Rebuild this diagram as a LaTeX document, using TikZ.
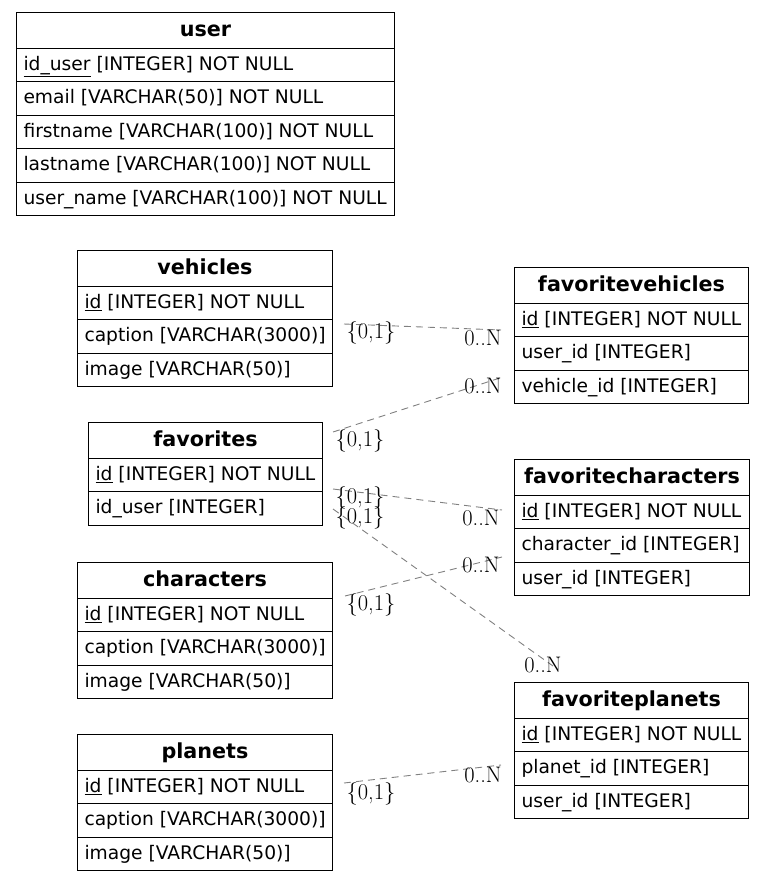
\documentclass[tikz,border=0pt]{standalone}
\usepackage{fontspec}
\newfontfamily\tblfont{DejaVu Sans}
\usetikzlibrary{calc}
\tikzset{
  x=1pt, y=1pt,
  hdr/.style={draw=black, line width=1pt, anchor=north west, minimum height=35.5pt, inner sep=0pt,
    font=\tblfont\bfseries\fontsize{20.7}{24}\selectfont, text height=15pt, text depth=2.9pt},
  rowbox/.style={draw=black, line width=1pt, anchor=north west, minimum height=33.5pt, inner ysep=0pt, inner xsep=7pt,
    font=\tblfont\fontsize{18.67}{22}\selectfont, text height=13.6pt, text depth=2.6pt},
  rel/.style={draw=gray, line width=0.9pt, dash pattern=on 7pt off 5pt},
  card/.style={inner sep=0pt, font=\fontsize{22.5}{25}\selectfont}
}
\newcommand\erdtable[6]{%
  \pgfmathsetmacro\erdtw{#4-14}%
  \node[hdr, minimum width=#4pt] (#1) at (#2,-#3) {#5};
  \foreach \r [count=\i] in {#6} {
    \node[rowbox] (#1-\i) at (#2, -#3-35.5-33.5*\i+33.5) {\makebox[\erdtw pt][l]{\r}};
  }
}
\begin{document}
\begin{tikzpicture}
\useasboundingbox (0,0) rectangle (765,-881);
\erdtable{user}{16}{12}{378}{user}{{\underline{id\_user} [INTEGER] NOT NULL},{email [VARCHAR(50)] NOT NULL},{firstname [VARCHAR(100)] NOT NULL},{lastname [VARCHAR(100)] NOT NULL},{user\_name [VARCHAR(100)] NOT NULL}}
\erdtable{vehicles}{77}{250}{255}{vehicles}{{\underline{id} [INTEGER] NOT NULL},{caption [VARCHAR(3000)]},{image [VARCHAR(50)]}}
\erdtable{favorites}{88}{422}{234}{favorites}{{\underline{id} [INTEGER] NOT NULL},{id\_user [INTEGER]}}
\erdtable{characters}{77}{562}{255}{characters}{{\underline{id} [INTEGER] NOT NULL},{caption [VARCHAR(3000)]},{image [VARCHAR(50)]}}
\erdtable{planets}{77}{734}{255}{planets}{{\underline{id} [INTEGER] NOT NULL},{caption [VARCHAR(3000)]},{image [VARCHAR(50)]}}
\erdtable{favoritevehicles}{514}{267}{234}{favoritevehicles}{{\underline{id} [INTEGER] NOT NULL},{user\_id [INTEGER]},{vehicle\_id [INTEGER]}}
\erdtable{favoritecharacters}{514}{459}{235}{favoritecharacters}{{\underline{id} [INTEGER] NOT NULL},{character\_id [INTEGER]},{user\_id [INTEGER]}}
\erdtable{favoriteplanets}{514}{682}{234}{favoriteplanets}{{\underline{id} [INTEGER] NOT NULL},{planet\_id [INTEGER]},{user\_id [INTEGER]}}
% connector end points
\coordinate (e1s) at (344,-324); \coordinate (e1t) at (501,-330);
\coordinate (e2s) at (333,-432); \coordinate (e2t) at (503,-377);
\coordinate (e3s) at (333,-489); \coordinate (e3t) at (502,-510);
\coordinate (e4s) at (333,-509); \coordinate (e4t) at (553,-666);
\coordinate (e5s) at (345,-596); \coordinate (e5t) at (502,-557);
\coordinate (e6s) at (344,-783); \coordinate (e6t) at (501,-765);
\draw[rel] (e1s) -- (e1t);
\draw[rel] (e2s) -- (e2t);
\draw[rel] (e3s) -- (e3t);
\draw[rel] (e4s) -- (e4t);
\draw[rel] (e5s) -- (e5t);
\draw[rel] (e6s) -- (e6t);
% cardinality labels
\node[card] (l1s) at (371,-333) {\{0,1\}};
\node[card] (l1t) at (483,-338) {0..N};
\node[card] (l2s) at (360,-441) {\{0,1\}};
\node[card] (l2t) at (483,-386) {0..N};
\node[card] (l3s) at (360,-498) {\{0,1\}};
\node[card] (l3t) at (481,-518) {0..N};
\node[card] (l4s) at (360,-518) {\{0,1\}};
\node[card] (l4t) at (543,-665) {0..N};
\node[card] (l5s) at (371,-605) {\{0,1\}};
\node[card] (l5t) at (481,-565) {0..N};
\node[card] (l6s) at (371,-794) {\{0,1\}};
\node[card] (l6t) at (483,-775) {0..N};
\end{tikzpicture}
\end{document}
